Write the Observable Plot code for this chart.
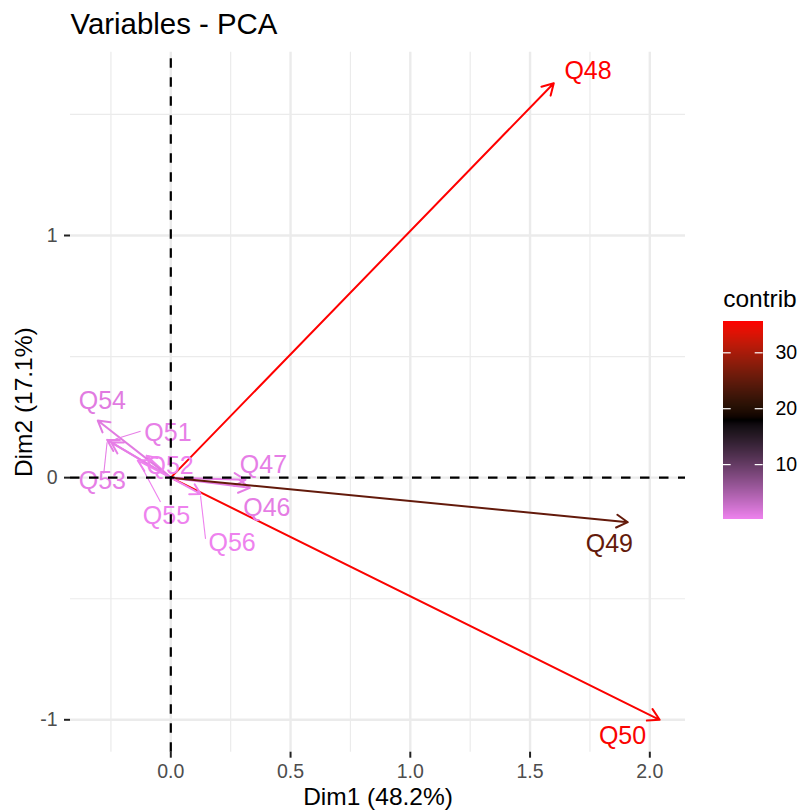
<!DOCTYPE html>
<html>
<head>
<meta charset="utf-8">
<script src="https://cdn.jsdelivr.net/npm/d3@7"></script>
<script src="https://cdn.jsdelivr.net/npm/@observablehq/plot@0.6"></script>
<style>
  body { margin: 0; background: #ffffff; }
  #wrap { position: relative; width: 801px; height: 811px; background: #ffffff; }
  #legend { position: absolute; left: 690px; top: 280px; }
  svg { overflow: visible; }
</style>
</head>
<body>
<div id="wrap"><div id="main"></div><div id="legend"></div></div>
<script>
// ---- data ----
const variables = ["Q46","Q47","Q48","Q49","Q50","Q51","Q52","Q53","Q54","Q55","Q56"];
const dim1      = [0.330, 0.312, 1.599, 1.908, 2.041, -0.249, -0.101, -0.266, -0.305, -0.138, 0.124];
const dim2      = [-0.042, -0.009, 1.629, -0.184, -1.000, 0.146, 0.091, 0.156, 0.236, 0.071, -0.067];
const contrib   = [0.76, 0.66, 35.6, 25.1, 35.3, 0.57, 0.13, 0.65, 1.02, 0.16, 0.14];
// label positions (repelled labels)
const labelX    = [0.401, 0.387, 1.742, 1.831, 1.886, -0.012, -0.003, -0.286, -0.286, -0.018, 0.256];
const labelY    = [-0.127, 0.054, 1.680, -0.272, -1.068, 0.184, 0.048, -0.012, 0.317, -0.158, -0.268];
// repel segments
const segVars = ["Q51", "Q53", "Q55", "Q56"];
const segX1 = [-0.126, -0.280, -0.043, 0.145];
const segY1 = [0.192, 0.016, -0.101, -0.253];
const segX2 = [-0.231, -0.266, -0.130, 0.124];
const segY2 = [0.160, 0.146, 0.060, -0.074];
// axes
const xTicks = [0, 0.5, 1, 1.5, 2];
const xMinor = [-0.25, 0.25, 0.75, 1.25, 1.75];
const yTicks = [-1, 0, 1];
const yMinor = [-0.5, 0.5, 1.5];
const legendTicks = [10, 20, 30];
const xDomain = [-0.4188, 2.149];
const yDomain = [-1.1338, 1.757];

const title = "Variables - PCA";
const xLabel = "Dim1 (48.2%)";
const yLabel = "Dim2 (17.1%)";
const legendTitle = "contrib";

// ---- tables built from the arrays ----
const vars = variables.map((v, i) => ({name: v, dim1: dim1[i], dim2: dim2[i], contrib: contrib[i], lx: labelX[i], ly: labelY[i]}));
const segs = segVars.map((v, i) => ({name: v, x1: segX1[i], y1: segY1[i], x2: segX2[i], y2: segY2[i],
  contrib: contrib[variables.indexOf(v)]}));

const cmin = d3.min(contrib), cmax = d3.max(contrib);
const colorSpec = {
  type: "linear",
  domain: [cmin, (cmin + cmax) / 2, cmax],
  range: ["#EE82EE", "#000000", "#FF0000"],
  interpolate: d3.interpolateLab
};

const FONT = "Liberation Sans, Arial, Helvetica, sans-serif";
const grid = "#EBEBEB";

const main = Plot.plot({
  width: 801,
  height: 811,
  marginLeft: 70,
  marginRight: 116,
  marginTop: 51.7,
  marginBottom: 59.3,
  style: {fontFamily: FONT, background: "#ffffff", overflow: "visible"},
  x: {domain: xDomain},
  y: {domain: yDomain},
  color: colorSpec,
  marks: [
    Plot.ruleX(xMinor, {stroke: grid, strokeWidth: 1.2}),
    Plot.ruleY(yMinor, {stroke: grid, strokeWidth: 1.2}),
    Plot.ruleX(xTicks, {stroke: grid, strokeWidth: 2.4}),
    Plot.ruleY(yTicks, {stroke: grid, strokeWidth: 2.4}),
    Plot.arrow(vars, {x1: 0, y1: 0, x2: "dim1", y2: "dim2", stroke: "contrib",
      strokeWidth: 2, headLength: 9.6, headAngle: 60}),
    Plot.link(segs, {x1: "x1", y1: "y1", x2: "x2", y2: "y2", stroke: "contrib", strokeWidth: 1.1}),
    Plot.text(vars, {x: "lx", y: "ly", text: "name", fill: "contrib", fontSize: 25, fontFamily: FONT}),
    Plot.ruleX([0], {stroke: "black", strokeWidth: 2.2, strokeDasharray: "9.5,9.5", strokeDashoffset: 12.5}),
    Plot.ruleY([0], {stroke: "black", strokeWidth: 2.2, strokeDasharray: "9.5,9.5"}),
    Plot.axisX({ticks: xTicks, tickFormat: d3.format(".1f"), tickSize: 6, tickPadding: 6.3,
      stroke: "#222222", strokeWidth: 2, fill: "#4D4D4D", fontSize: 19.5, fontFamily: FONT}),
    Plot.axisY({ticks: yTicks, tickFormat: d => String(d), tickSize: 6, tickPadding: 7,
      stroke: "#222222", strokeWidth: 2, fill: "#4D4D4D", fontSize: 19.5, fontFamily: FONT}),
    Plot.text([title], {text: d => d, frameAnchor: "top-left", dy: -18.4, lineAnchor: "bottom",
      textAnchor: "start", fontSize: 29.4, fill: "black", fontFamily: FONT}),
    Plot.text([xLabel], {text: d => d, frameAnchor: "bottom", dy: 52.6, lineAnchor: "bottom",
      textAnchor: "middle", fontSize: 24.5, fill: "black", fontFamily: FONT}),
    Plot.text([yLabel], {text: d => d, frameAnchor: "left", dx: -39, rotate: -90, lineAnchor: "bottom",
      textAnchor: "middle", fontSize: 24.5, fill: "black", fontFamily: FONT})
  ]
});
document.getElementById("main").appendChild(main);

// ---- colour bar legend ----
const nSlices = 198;
const slices = d3.range(nSlices).map(i => {
  const a = cmin + (cmax - cmin) * i / nSlices;
  const b = cmin + (cmax - cmin) * (i + 1) / nSlices;
  return {y1: a, y2: b, v: (a + b) / 2};
});
const legend = Plot.plot({
  width: 111,
  height: 250,
  marginLeft: 32.7,
  marginRight: 38.3,
  marginTop: 41,
  marginBottom: 10.7,
  style: {fontFamily: FONT, background: "transparent", overflow: "visible"},
  x: {domain: [0, 1], axis: null},
  y: {domain: [cmin, cmax], axis: null},
  color: colorSpec,
  marks: [
    Plot.rect(slices, {x1: 0, x2: 1, y1: "y1", y2: "y2", fill: "v", shapeRendering: "crispEdges"}),
    Plot.ruleY(legendTicks, {y: d => d, x1: 0, x2: 0.2, stroke: "white", strokeWidth: 1.2}),
    Plot.ruleY(legendTicks, {y: d => d, x1: 0.8, x2: 1, stroke: "white", strokeWidth: 1.2}),
    Plot.text(legendTicks, {x: 1, y: d => d, text: d => String(d), dx: 12.3, textAnchor: "start",
      fontSize: 19.5, fill: "black", fontFamily: FONT}),
    Plot.text([legendTitle], {text: d => d, frameAnchor: "top-left", dy: -14.3, lineAnchor: "bottom",
      textAnchor: "start", fontSize: 24.5, fill: "black", fontFamily: FONT})
  ]
});
document.getElementById("legend").appendChild(legend);
</script>
</body>
</html>
